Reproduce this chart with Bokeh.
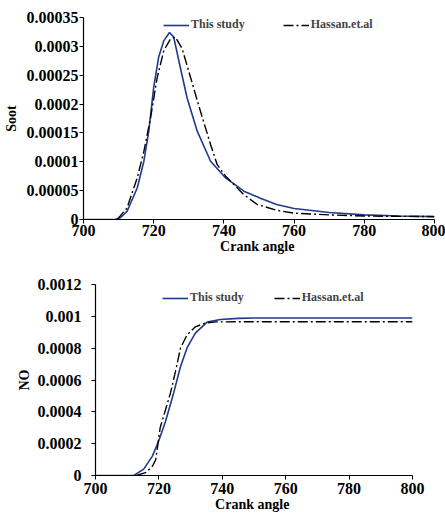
from bokeh.plotting import figure
from bokeh.models import FixedTicker, CustomJSTickFormatter, Range1d, Legend, LegendItem
from bokeh.embed import file_html
from bokeh.resources import INLINE

# ---- data ----
soot_x_this = [700, 705, 709, 710.5, 712.4, 715.3, 717.2, 718.6, 720.0, 721.4, 722.9, 724.5, 725.7, 727.6, 729.5, 732.4, 736.2, 740.5, 745.7, 750.4, 755, 760, 770, 780, 790, 800]
soot_y_this = [0, 0, 0, 0.000003, 0.000014, 0.0000545, 0.000101, 0.000153, 0.000229, 0.000281, 0.000310, 0.000324, 0.000316, 0.000263, 0.000211, 0.000153, 0.000101, 0.000072, 0.000049, 0.000037, 0.000026, 0.000019, 0.000012, 0.000008, 0.000006, 0.000005]

soot_x_hassan = [709.6, 712.4, 715.3, 717.2, 719.1, 721.0, 722.9, 724.8, 726.2, 728.1, 730.5, 733.3, 736.2, 738.1, 740.5, 745.7, 749.5, 755, 760, 770, 780, 790, 800]
soot_y_hassan = [0, 0.000020, 0.000072, 0.000118, 0.000176, 0.000246, 0.000293, 0.000313, 0.000316, 0.000296, 0.000246, 0.000188, 0.000130, 0.000095, 0.000075, 0.000043, 0.000026, 0.000016, 0.000011, 0.000008, 0.000006, 0.0000055, 0.000005]

no_x_this = [700, 712.1, 715.2, 717.9, 720.0, 722.1, 724.7, 726.8, 728.9, 731.5, 735.2, 739.4, 745, 750, 760, 780, 800]
no_y_this = [0, 0, 0.000040, 0.000120, 0.000220, 0.000341, 0.000522, 0.000683, 0.000803, 0.000894, 0.000964, 0.000980, 0.000987, 0.000990, 0.000990, 0.000990, 0.000990]

no_x_hassan = [713, 716, 718, 719, 720.4, 721.6, 723.7, 725.3, 726.8, 728.9, 731.5, 734.7, 738, 750, 760, 780, 800]
no_y_hassan = [0, 0.000020, 0.000060, 0.000100, 0.000300, 0.000380, 0.000522, 0.000660, 0.000800, 0.000884, 0.000934, 0.000958, 0.000965, 0.000966, 0.000966, 0.000966, 0.000966]

x_ticks = [700, 720, 740, 760, 780, 800]
soot_ticks = [0, 0.00005, 0.0001, 0.00015, 0.0002, 0.00025, 0.0003, 0.00035]
no_ticks = [0, 0.0002, 0.0004, 0.0006, 0.0008, 0.001, 0.0012]

BLUE = "#203a8c"
FONT = "Liberation Serif"
DASH = "10 3 2 3"

fmt = CustomJSTickFormatter(code="""
var s = tick.toFixed(6);
s = s.replace(/0+$/, '');
s = s.replace(/\\.$/, '');
return s;
""")


def style(p, yticks, ylabel, y_lab_so, y_ax_so, x_lab_so, x_ax_so):
    p.xaxis.ticker = FixedTicker(ticks=x_ticks)
    p.yaxis.ticker = FixedTicker(ticks=yticks)
    p.yaxis.formatter = fmt
    p.xgrid.visible = False
    p.ygrid.visible = False
    p.outline_line_color = None
    for ax in (p.xaxis[0], p.yaxis[0]):
        ax.axis_line_color = "black"
        ax.axis_line_width = 1.2
        ax.major_tick_line_color = "black"
        ax.major_tick_out = 4
        ax.major_tick_in = 0
        ax.minor_tick_line_color = None
        ax.major_label_text_font = FONT
        ax.major_label_text_font_style = "bold"
        ax.major_label_text_font_size = "16px"
        ax.major_label_text_color = "black"
        ax.axis_label_text_font = FONT
        ax.axis_label_text_font_style = "bold"
        ax.axis_label_text_font_size = "14px"
        ax.axis_label_text_color = "black"
    p.yaxis.major_label_standoff = y_lab_so
    p.yaxis.axis_label_standoff = y_ax_so
    p.xaxis.major_label_standoff = x_lab_so
    p.xaxis.axis_label_standoff = x_ax_so
    p.xaxis.axis_label = "Crank  angle"
    p.yaxis.axis_label = ylabel


def add_legend(p, r1, r2, loc, spacing):
    leg = Legend(items=[LegendItem(label="This study", renderers=[r1]),
                        LegendItem(label="Hassan.et.al", renderers=[r2])],
                 orientation="horizontal", location=loc,
                 border_line_color=None, background_fill_alpha=0,
                 label_text_font=FONT, label_text_font_style="bold",
                 label_text_font_size="12px", glyph_width=26, glyph_height=14,
                 spacing=spacing, label_standoff=2, margin=0, padding=0,
                 label_height=14)
    p.add_layout(leg, "center")


p1 = figure(width=445, height=256, output_backend="svg", toolbar_location=None,
            x_range=Range1d(700, 800), y_range=Range1d(0, 0.00035),
            min_border_left=83, min_border_right=11, min_border_top=17, min_border_bottom=5)
style(p1, soot_ticks, "Soot", 1, 5, 1, 0)
r1 = p1.line(soot_x_this, soot_y_this, line_color=BLUE, line_width=1.6)
r2 = p1.line(soot_x_hassan, soot_y_hassan, line_color="black", line_width=1.4, line_dash=DASH)
add_legend(p1, r1, r2, (80, 187), 38)

p2 = figure(width=445, height=258, output_backend="svg", toolbar_location=None,
            x_range=Range1d(700, 800), y_range=Range1d(0, 0.0012),
            min_border_left=95, min_border_right=33, min_border_top=28, min_border_bottom=5)
style(p2, no_ticks, "NO", 10, 3, 3, 0)
r3 = p2.line(no_x_this, no_y_this, line_color=BLUE, line_width=1.6)
r4 = p2.line(no_x_hassan, no_y_hassan, line_color="black", line_width=1.4, line_dash=DASH)
add_legend(p2, r3, r4, (67, 170), 30)

open("out.html", "w").write(file_html([p1, p2], INLINE))
